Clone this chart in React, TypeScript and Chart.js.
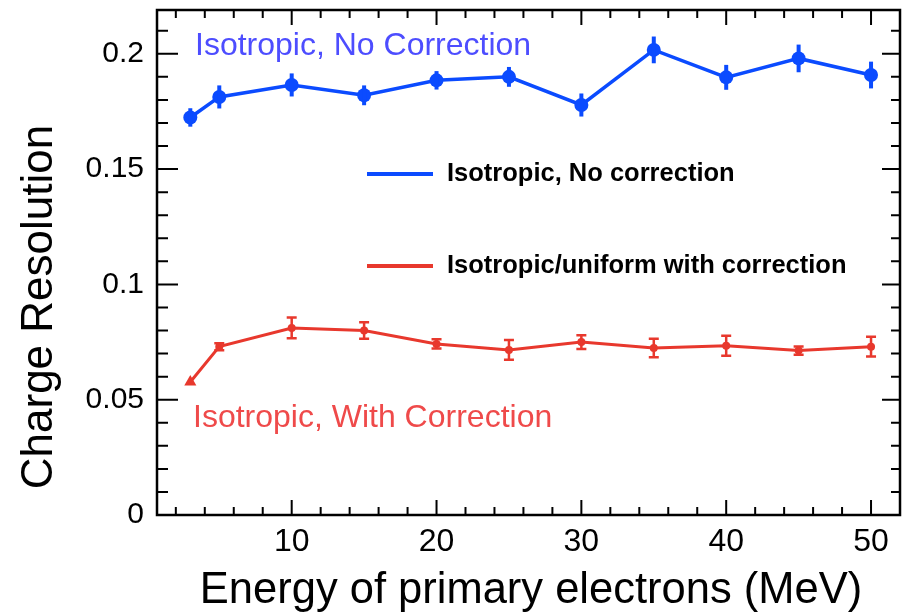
import React, { useEffect, useRef } from 'react';
import { Chart, registerables } from 'chart.js';

Chart.register(...registerables);

// Primary electron energies (MeV)
const energies = [3, 5, 10, 15, 20, 25, 30, 35, 40, 45, 50];

// Charge resolution without correction, with statistical errors
const resolutionNoCorr = [0.1724, 0.1813, 0.1865, 0.182, 0.1885, 0.19, 0.1778, 0.2017, 0.1898, 0.198, 0.1908];
const errNoCorr = [0.004, 0.005, 0.005, 0.0043, 0.004, 0.0043, 0.005, 0.0058, 0.0054, 0.006, 0.0058];

// Charge resolution with correction, with statistical errors
const resolutionCorr = [0.0577, 0.073, 0.0811, 0.08, 0.0742, 0.0716, 0.075, 0.0724, 0.0734, 0.0713, 0.073];
const errCorr = [0, 0.0015, 0.0045, 0.0036, 0.002, 0.0043, 0.003, 0.004, 0.0043, 0.0018, 0.0043];

const legendLabels = ['Isotropic, No correction', 'Isotropic/uniform with correction'];
const noteLabels = ['Isotropic, No Correction', 'Isotropic, With Correction'];
const xTitle = 'Energy of primary electrons (MeV)';
const yTitle = 'Charge Resolution';

const FONT = '"Liberation Sans", Arial, Helvetica, sans-serif';
const BLUE = '#0b4bff';
const BLUE_TEXT = '#4d4dff';
const RED = '#e8382d';
const RED_TEXT = '#ef4a4a';

const errors = [errNoCorr, errCorr];

const decorPlugin = {
  id: 'decor',
  afterDatasetsDraw(chart: any) {
    const ctx = chart.ctx as CanvasRenderingContext2D;
    const xs = chart.scales.x;
    const ys = chart.scales.y;
    chart.data.datasets.forEach((ds: any, i: number) => {
      const errs = errors[i];
      ctx.save();
      ctx.strokeStyle = ds.borderColor;
      ctx.lineWidth = i === 0 ? 4 : 2.5;
      ds.data.forEach((p: any, j: number) => {
        const e = errs[j];
        if (!e) return;
        const px = xs.getPixelForValue(p.x);
        const y1 = ys.getPixelForValue(p.y - e);
        const y2 = ys.getPixelForValue(p.y + e);
        ctx.beginPath();
        ctx.moveTo(px, y1);
        ctx.lineTo(px, y2);
        if (i === 1) {
          ctx.moveTo(px - 5, y1);
          ctx.lineTo(px + 5, y1);
          ctx.moveTo(px - 5, y2);
          ctx.lineTo(px + 5, y2);
        }
        ctx.stroke();
      });
      ctx.restore();
    });
  },
  afterDraw(chart: any) {
    const ctx = chart.ctx as CanvasRenderingContext2D;
    const { left, right, top, bottom } = chart.chartArea;
    const xs = chart.scales.x;
    const ys = chart.scales.y;
    ctx.save();
    // frame
    ctx.strokeStyle = '#000';
    ctx.lineWidth = 2.5;
    ctx.strokeRect(left, top, right - left, bottom - top);
    // inward ticks on x
    ctx.lineWidth = 2;
    ctx.beginPath();
    for (let v = 2; v <= xs.max; v += 2) {
      if (v < xs.min) continue;
      const px = xs.getPixelForValue(v);
      const major = v % 10 === 0;
      const len = major ? 15 : 8;
      ctx.moveTo(px, bottom);
      ctx.lineTo(px, bottom - len);
      ctx.moveTo(px, top);
      ctx.lineTo(px, top + len);
    }
    // inward ticks on y
    for (let k = 0; k * 0.01 <= ys.max + 1e-9; k++) {
      const py = ys.getPixelForValue(k * 0.01);
      const major = k % 5 === 0;
      ctx.moveTo(left, py);
      ctx.lineTo(left + (major ? 21 : 11), py);
      ctx.moveTo(right, py);
      ctx.lineTo(right - (major ? 18 : 9), py);
    }
    ctx.stroke();

    // axis titles
    ctx.fillStyle = '#000';
    ctx.font = `43.5px ${FONT}`;
    ctx.textAlign = 'center';
    ctx.textBaseline = 'alphabetic';
    ctx.fillText(xTitle, 531, 603);
    ctx.save();
    ctx.translate(52, 307);
    ctx.rotate(-Math.PI / 2);
    ctx.font = `44px ${FONT}`;
    ctx.fillText(yTitle, 0, 0);
    ctx.restore();

    // in-plot notes
    ctx.textAlign = 'left';
    ctx.font = `32px ${FONT}`;
    ctx.fillStyle = BLUE_TEXT;
    ctx.fillText(noteLabels[0], 195, 55);
    ctx.fillStyle = RED_TEXT;
    ctx.fillText(noteLabels[1], 193, 427);

    // legend
    const legendY = [174, 266];
    chart.data.datasets.forEach((ds: any, i: number) => {
      ctx.strokeStyle = ds.borderColor;
      ctx.lineWidth = 4;
      ctx.beginPath();
      ctx.moveTo(367, legendY[i]);
      ctx.lineTo(433, legendY[i]);
      ctx.stroke();
      ctx.fillStyle = '#000';
      ctx.font = `bold 25.5px ${FONT}`;
      ctx.textBaseline = 'middle';
      ctx.fillText(ds.label, 447, legendY[i]);
    });
    ctx.restore();
  },
};

export default function App() {
  const ref = useRef<HTMLCanvasElement>(null);

  useEffect(() => {
    if (!ref.current) return;
    const chart = new Chart(ref.current, {
      type: 'scatter',
      data: {
        datasets: [
          {
            label: legendLabels[0],
            data: energies.map((e, i) => ({ x: e, y: resolutionNoCorr[i] })),
            showLine: true,
            borderColor: BLUE,
            backgroundColor: BLUE,
            borderWidth: 3.5,
            pointRadius: 7,
            pointStyle: 'circle',
            pointBorderWidth: 0,
          },
          {
            label: legendLabels[1],
            data: energies.map((e, i) => ({ x: e, y: resolutionCorr[i] })),
            showLine: true,
            borderColor: RED,
            backgroundColor: RED,
            borderWidth: 3,
            pointRadius: energies.map((_, i) => (i === 0 ? 7 : 4)),
            pointStyle: energies.map((_, i) => (i === 0 ? 'triangle' : 'circle')) as any,
            pointBorderWidth: 0,
          },
        ],
      },
      options: {
        responsive: false,
        animation: false,
        layout: { padding: { top: 10, right: 1, left: 0, bottom: 0 } },
        plugins: { legend: { display: false }, tooltip: { enabled: false } },
        scales: {
          x: {
            type: 'linear',
            min: 0.7,
            max: 52,
            grid: { display: false },
            border: { display: false },
            ticks: {
              stepSize: 10,
              includeBounds: false,
              autoSkip: false,
              maxRotation: 0,
              padding: 0,
              color: '#000',
              font: { family: FONT, size: 32 },
            },
            afterFit: (s: any) => {
              s.height = 101;
              s.paddingLeft = 0;
              s.paddingRight = 0;
            },
          },
          y: {
            type: 'linear',
            min: 0,
            max: 0.219,
            grid: { display: false },
            border: { display: false },
            ticks: {
              stepSize: 0.05,
              includeBounds: false,
              padding: 5,
              color: '#000',
              font: { family: FONT, size: 30 },
              callback: (v: any) => String(Math.round(Number(v) * 1000) / 1000),
            },
            afterFit: (s: any) => {
              s.width = 157;
              s.paddingTop = 0;
              s.paddingBottom = 0;
            },
          },
        },
      },
      plugins: [decorPlugin],
    });
    return () => chart.destroy();
  }, []);

  return (
    <canvas
      ref={ref}
      width={907}
      height={616}
      style={{ position: 'absolute', left: 0, top: 0, width: 907, height: 616, background: '#fff' }}
    />
  );
}
